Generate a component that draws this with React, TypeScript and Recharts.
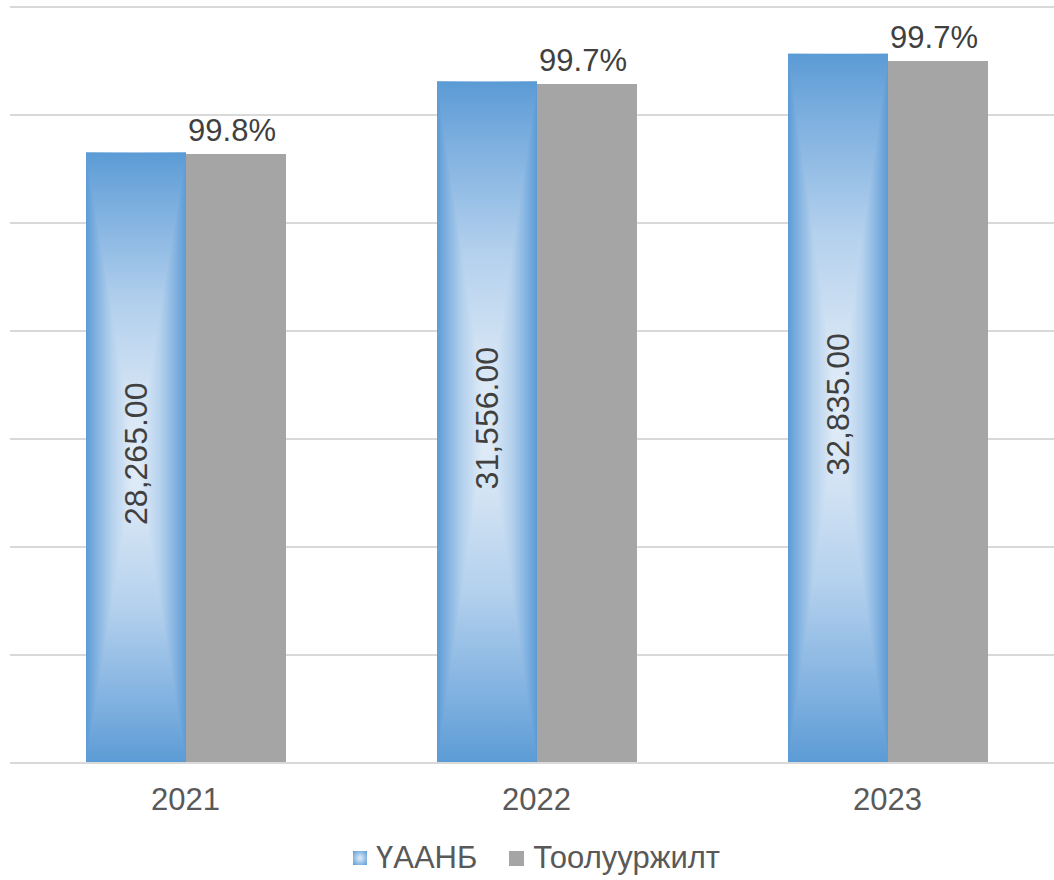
import { BarChart, Bar, XAxis, YAxis, CartesianGrid, Legend, LabelList } from "recharts";

const years = ["2021", "2022", "2023"];
const uaanb = [28265, 31556, 32835];
const tooluur = [28195, 31440, 32500];
const tooluurPct = ["99.8%", "99.7%", "99.7%"];
const yTicks = [0, 5000, 10000, 15000, 20000, 25000, 30000, 35000];

const data = years.map((year, i) => ({ year, uaanb: uaanb[i], tooluur: tooluur[i] }));

const FONT = "'Liberation Sans', Arial, sans-serif";

const stops = [
  { o: "0%", c: "#5b9bd5" },
  { o: "18%", c: "#7dafdf" },
  { o: "50%", c: "#b3d0ed" },
  { o: "85%", c: "#d9e7f5" },
  { o: "100%", c: "#e2edf8" },
];

// "from center" rectangular gradient: horizontal fill + top/bottom triangles with vertical fill
const GradientBar = (props: any) => {
  const { x, y, width, height, index } = props;
  if (!width || !height) return null;
  const cx = x + width / 2;
  const cy = y + height / 2;
  const id = `g${index}`;
  return (
    <g>
      <defs>
        <linearGradient id={`${id}h`} x1="0" y1="0" x2="1" y2="0">
          {stops.map((s) => <stop key={"l" + s.o} offset={parseFloat(s.o) / 2 + "%"} stopColor={s.c} />)}
          {stops.slice().reverse().map((s) => <stop key={"r" + s.o} offset={100 - parseFloat(s.o) / 2 + "%"} stopColor={s.c} />)}
        </linearGradient>
        <linearGradient id={`${id}v`} x1="0" y1="0" x2="0" y2="1">
          {stops.map((s) => <stop key={"t" + s.o} offset={parseFloat(s.o) / 2 + "%"} stopColor={s.c} />)}
          {stops.slice().reverse().map((s) => <stop key={"b" + s.o} offset={100 - parseFloat(s.o) / 2 + "%"} stopColor={s.c} />)}
        </linearGradient>
      </defs>
      <rect x={x} y={y} width={width} height={height} fill={`url(#${id}h)`} />
      <polygon
        points={`${x},${y} ${x + width},${y} ${cx},${cy} ${x + width},${y + height} ${x},${y + height} ${cx},${cy}`}
        fill={`url(#${id}v)`}
        fillRule="nonzero"
      />
    </g>
  );
};

const InsideLabel = (props: any) => {
  const { x, y, width, height, value } = props;
  const cx = x + width / 2;
  const cy = y + height / 2 - 4;
  return (
    <text
      x={cx}
      y={cy}
      transform={`rotate(-90, ${cx}, ${cy})`}
      textAnchor="middle"
      dominantBaseline="central"
      fill="#404040"
      fontSize={32}
      fontFamily={FONT}
    >
      {Number(value).toLocaleString("en-US", { minimumFractionDigits: 2, maximumFractionDigits: 2 })}
    </text>
  );
};

const TopLabel = (props: any) => {
  const { x, y, width, index } = props;
  return (
    <text x={x + width / 2 - 4} y={y - 13} textAnchor="middle" fill="#404040" fontSize={31} fontFamily={FONT}>
      {tooluurPct[index]}
    </text>
  );
};

const LegendBox = () => (
  <div style={{ display: "flex", justifyContent: "center", alignItems: "center", height: 40, fontFamily: FONT, fontSize: 31, color: "#595959" }}>
    <svg width={14} height={14} style={{ marginRight: 9 }}>
      <defs>
        <radialGradient id="lg" cx="50%" cy="50%" r="70%">
          <stop offset="0%" stopColor="#e2edf8" />
          <stop offset="100%" stopColor="#5b9bd5" />
        </radialGradient>
      </defs>
      <rect width={14} height={14} fill="url(#lg)" />
    </svg>
    <span style={{ marginRight: 32 }}>ҮААНБ</span>
    <svg width={15} height={15} style={{ marginRight: 9 }}>
      <rect width={15} height={15} fill="#a5a5a5" />
    </svg>
    <span>Тоолууржилт</span>
  </div>
);

export default function App() {
  return (
    <div style={{ position: "fixed", left: 0, top: 0, width: 1054, height: 880, overflow: "hidden", background: "#fff" }}>
      <BarChart width={1064} height={880} data={data} margin={{ top: 7, right: 1, left: 10, bottom: 2 }} barGap={0} barSize={100}>
        <CartesianGrid vertical={false} stroke="#d9d9d9" strokeWidth={2} />
        <XAxis
          dataKey="year"
          height={75}
          tickLine={false}
          axisLine={{ stroke: "#d9d9d9", strokeWidth: 2 }}
          tickMargin={19}
          tick={{ fill: "#595959", fontSize: 31, fontFamily: FONT }}
        />
        <YAxis hide domain={[0, 35000]} ticks={yTicks} />
        <Legend verticalAlign="bottom" height={40} content={() => <LegendBox />} />
        <Bar dataKey="uaanb" name="ҮААНБ" shape={<GradientBar />} isAnimationActive={false}>
          <LabelList dataKey="uaanb" content={<InsideLabel />} />
        </Bar>
        <Bar dataKey="tooluur" name="Тоолууржилт" fill="#a5a5a5" isAnimationActive={false}>
          <LabelList dataKey="tooluur" content={<TopLabel />} />
        </Bar>
      </BarChart>
    </div>
  );
}
